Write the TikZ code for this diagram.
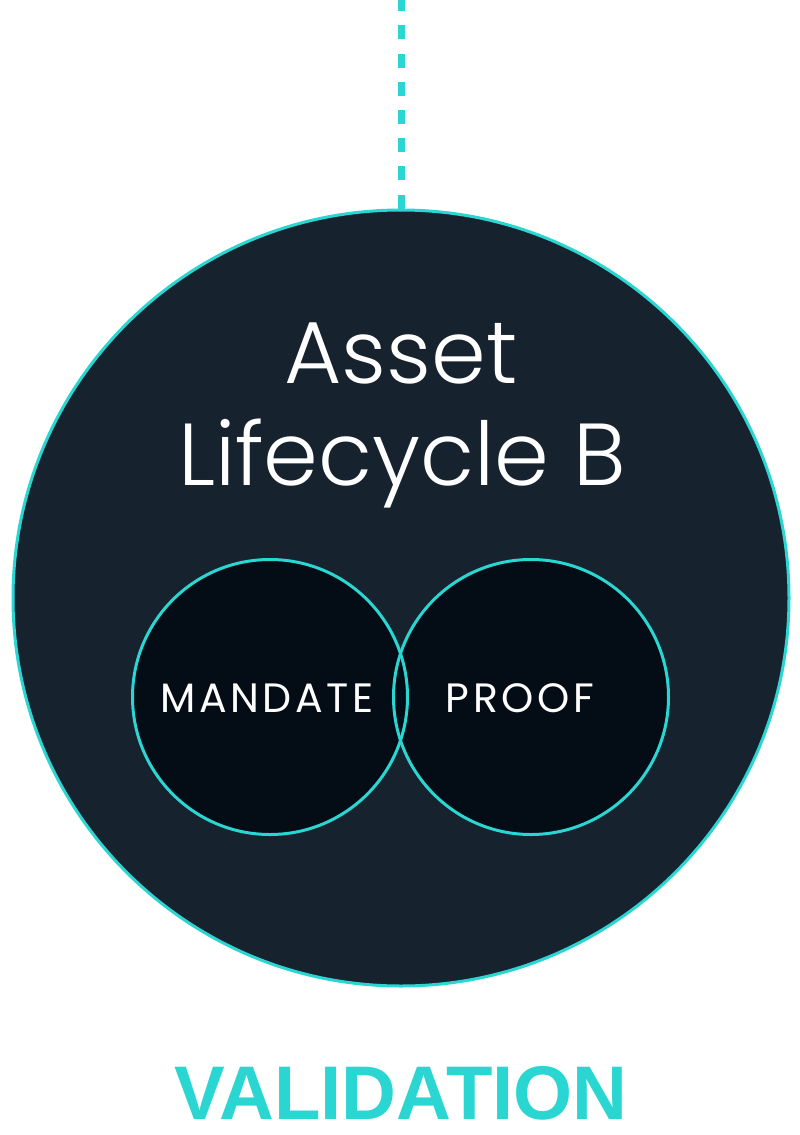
\documentclass[tikz,border=0pt]{standalone}
\usepackage{fontspec}
\newfontfamily\titlefont{Poppins Light}
\newfontfamily\labelfont{Poppins}[LetterSpace=9]
\newfontfamily\boldfont{Liberation Sans}[BoldFont=* Bold]
\definecolor{teal}{HTML}{2AD6D2}
\definecolor{bigfill}{HTML}{16222E}
\definecolor{smallfill}{HTML}{040C16}
\tikzset{
  bigcircle/.style={circle, fill=bigfill, draw=teal, line width=3pt, minimum size=776pt, inner sep=0pt},
  smallcircle/.style={circle, minimum size=276pt, inner sep=0pt},
  link/.style={draw=teal, line width=7pt, dash pattern=on 14pt off 14.2pt},
  titletext/.style={text=white, font=\titlefont\fontsize{88}{100}\selectfont, inner sep=0pt, anchor=base},
  labeltext/.style={text=white, font=\labelfont\fontsize{41}{48}\selectfont, inner sep=0pt, anchor=base},
  foottext/.style={text=teal, font=\boldfont\bfseries\fontsize{76}{90}\selectfont, inner sep=0pt, anchor=base}
}
\begin{document}
\begin{tikzpicture}[x=1pt,y=-1pt]
\useasboundingbox (0,0) rectangle (800,1135);
\fill[white] (0,0) rectangle (800,1135);
\coordinate (topend) at (401,0);
\node[bigcircle] (big) at (401,598) {};
\draw[link] (big.north) -- (topend);
\node[titletext] (asset) at (401,383) {Asset};
\node[titletext] (life) at (402,485) {Lifecycle B};
\node[smallcircle, fill=smallfill] (mandate) at (270,697) {};
\node[smallcircle, fill=smallfill] (proof) at (531,697) {};
\draw[teal, line width=3pt] (mandate) circle (137.5pt);
\draw[teal, line width=3pt] (proof) circle (137.5pt);
\node[labeltext] (mandatetext) at (267,712) {MANDATE};
\node[labeltext] (prooftext) at (520,712) {PROOF};
\node[foottext] (valid) at (401,1119) {VALIDATION};
\end{tikzpicture}
\end{document}
